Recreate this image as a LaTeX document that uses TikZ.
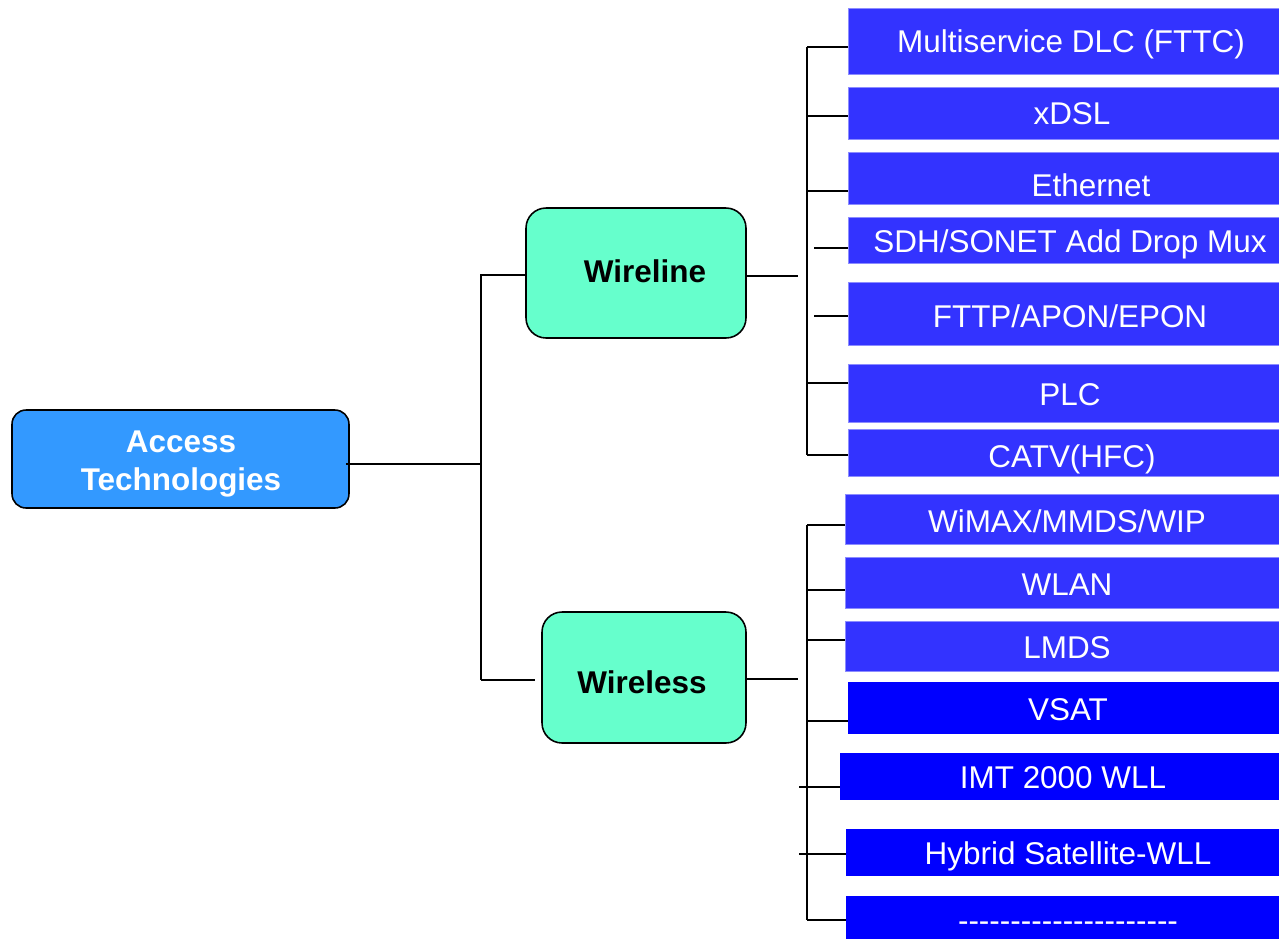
\documentclass[tikz,border=0pt]{standalone}
\usepackage{fontspec}
\setmainfont{Liberation Sans}
\definecolor{accblue}{HTML}{3399FF}
\definecolor{mint}{HTML}{66FFCC}
\definecolor{techblue}{HTML}{3333FF}
\definecolor{techedge}{HTML}{8C8CFF}
\definecolor{deepblue}{HTML}{0000FF}
\newcommand{\hyphenrow}[1]{\foreach \k in {1,...,#1}{-{}}}
\tikzset{
  conn/.style={line width=1.2pt, black},
  rootbox/.style={draw=black, line width=0.9pt, fill=accblue, rounded corners=0.28cm,
    inner sep=0pt, outer sep=0pt},
  midbox/.style={draw=black, line width=0.9pt, fill=mint, rounded corners=0.4cm,
    inner sep=0pt, outer sep=0pt},
  techbox/.style={draw=techedge, line width=0.5pt, fill=techblue, anchor=north west,
    minimum width=9cm, inner sep=0pt, outer sep=0pt},
  wlbox/.style={techbox, fill=deepblue, draw=deepblue},
  label/.style={anchor=base, text=white, font=\fontsize{17.9}{21.6}\selectfont, inner sep=0pt},
  boldlabel/.style={label, font=\fontsize{17.9}{21.6}\selectfont\bfseries},
}
\begin{document}
\begin{tikzpicture}[x=0.02cm, y=-0.02cm]
\useasboundingbox (0,0) rectangle (1279,938);

% root and the two families
\node[rootbox, minimum width=6.74cm, minimum height=1.96cm] (acc) at (180.5,459) {};
\node[boldlabel] (acct1) at (181,452) {Access};
\node[boldlabel] (acct2) at (181,490) {Technologies};
\node[midbox, minimum width=4.4cm, minimum height=2.6cm] (wl) at (636,273) {};
\node[boldlabel, text=black] (wlt) at (645,282) {Wireline};
\node[midbox, minimum width=4.08cm, minimum height=2.62cm] (ws) at (644,677.5) {};
\node[boldlabel, text=black] (wst) at (642,693) {Wireless};

% wireline technologies
\node[techbox, minimum height=1.32cm] (b1) at (848,8) {};
\node[label] (b1t) at (1071,52) {Multiservice DLC (FTTC)};
\node[techbox, minimum height=1.04cm] (b2) at (848,87) {};
\node[label] (b2t) at (1072,124) {xDSL};
\node[techbox, minimum height=1.04cm] (b3) at (848,152) {};
\node[label] (b3t) at (1091,196) {Ethernet};
\node[techbox, minimum height=0.92cm] (b4) at (848,217) {};
\node[label] (b4t) at (1070,252) {SDH/SONET Add Drop Mux};
\node[techbox, minimum height=1.26cm] (b5) at (848,282) {};
\node[label] (b5t) at (1070,327) {FTTP/APON/EPON};
\node[techbox, minimum height=1.16cm] (b6) at (848,364) {};
\node[label] (b6t) at (1070,405) {PLC};
\node[techbox, minimum height=0.94cm] (b7) at (848,429) {};
\node[label] (b7t) at (1072,467) {CATV(HFC)};

% wireless technologies
\node[techbox, minimum height=1.0cm] (c1) at (845,494) {};
\node[label] (c1t) at (1067,532) {WiMAX/MMDS/WIP};
\node[techbox, minimum height=1.02cm] (c2) at (845,557) {};
\node[label] (c2t) at (1067,595) {WLAN};
\node[techbox, minimum height=1.0cm] (c3) at (845,621) {};
\node[label] (c3t) at (1067,658) {LMDS};
\node[wlbox, minimum height=1.02cm] (c4) at (848,682) {};
\node[label] (c4t) at (1068,720) {VSAT};
\node[wlbox, minimum height=0.92cm] (c5) at (840,753) {};
\node[label] (c5t) at (1063,788) {IMT 2000 WLL};
\node[wlbox, minimum height=0.92cm] (c6) at (846,829) {};
\node[label] (c6t) at (1068,864) {Hybrid Satellite-WLL};
\node[wlbox, minimum height=1.2cm] (c7) at (846,896) {};
\node[label] (c7t) at (1068,931) {\hyphenrow{21}};

% junction points of the tree
\coordinate (j0) at (481,464);
\coordinate (ja) at (481,275);
\coordinate (jb) at (481,680);
\coordinate (wlo) at (798,276);
\coordinate (wso) at (798,679);
\coordinate (t1) at (807,47);
\coordinate (t2) at (807,116);
\coordinate (t3) at (807,191);
\coordinate (t4) at (814,248);
\coordinate (t5) at (814,316);
\coordinate (t6) at (807,383);
\coordinate (t7) at (807,455);
\coordinate (s1) at (807,525);
\coordinate (s2) at (807,590);
\coordinate (s3) at (807,640);
\coordinate (s4) at (807,721);
\coordinate (s5) at (799,787);
\coordinate (s6) at (799,854);
\coordinate (s7) at (807,920);

% root to the two families
\draw[conn] ([xshift=-0.06cm]acc.east |- j0) -- (j0);
\draw[conn] (ja -| wl.west) -- (ja) -- (jb);
\draw[conn, shorten >=0.14cm] (jb) -- (jb -| ws.west);

% wireline branch
\draw[conn] (wlo -| wl.east) -- (wlo);
\draw[conn] (t1) -- (t7);
\foreach \t/\b in {t1/b1, t2/b2, t3/b3, t4/b4, t5/b5, t6/b6, t7/b7}
  \draw[conn] (\t) -- (\t -| \b.west);

% wireless branch
\draw[conn] (wso -| ws.east) -- (wso);
\draw[conn] (s1) -- (s7);
\foreach \t/\b in {s1/c1, s2/c2, s3/c3, s4/c4, s5/c5, s6/c6, s7/c7}
  \draw[conn] (\t) -- (\t -| \b.west);
\end{tikzpicture}
\end{document}
